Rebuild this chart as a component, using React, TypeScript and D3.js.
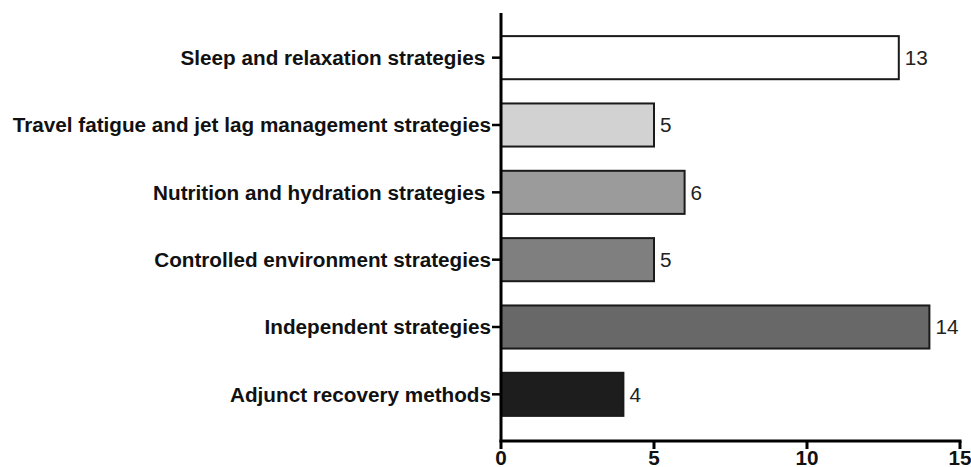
import React from "react";
import * as d3 from "d3";

const categories = [
  "Sleep and relaxation strategies ",
  "Travel fatigue and jet lag management strategies",
  "Nutrition and hydration strategies ",
  "Controlled environment strategies",
  "Independent strategies",
  "Adjunct recovery methods",
];
const values = [13, 5, 6, 5, 14, 4];
const fills = ["#ffffff", "#d2d2d2", "#9b9b9b", "#7f7f7f", "#686868", "#1d1d1d"];
const xTicks = [0, 5, 10, 15];

const W = 971;
const H = 467;
const X0 = 501;
const X1 = 960;
const YTOP = 13;
const YAXIS = 441;
const FS = 20.7;

export default function App() {
  const x = d3.scaleLinear().domain([0, 15]).range([X0, X1]);
  const y = d3
    .scaleBand<string>()
    .domain(categories)
    .range([24, 428])
    .paddingInner(0.36)
    .paddingOuter(0.18);
  const font = "'Liberation Sans', Arial, sans-serif";
  return (
    <svg
      width={W}
      height={H}
      style={{ position: "absolute", left: 0, top: 0, background: "#fff" }}
      fontFamily={font}
    >
      {categories.map((c, i) => {
        const yy = y(c)!;
        const bw = y.bandwidth();
        return (
          <g key={c}>
            <rect
              x={x(0)}
              y={yy}
              width={x(values[i]) - x(0)}
              height={bw}
              fill={fills[i]}
              stroke="#1a1a1a"
              strokeWidth={2}
            />
            <text
              x={x(values[i]) + 6}
              y={yy + bw / 2}
              dy="0.36em"
              fontSize={FS}
              fill="#222"
            >
              {values[i]}
            </text>
            <line x1={X0 - 9} x2={X0} y1={yy + bw / 2} y2={yy + bw / 2} stroke="#000" strokeWidth={2.5} />
            <text
              x={X0 - 10}
              y={yy + bw / 2}
              dy="0.36em"
              textAnchor="end"
              fontSize={FS}
              fontWeight="bold"
              fill="#111"
              style={{ whiteSpace: "pre" }}
            >
              {c}
            </text>
          </g>
        );
      })}
      <line x1={X0} x2={X0} y1={YTOP} y2={YAXIS + 1} stroke="#000" strokeWidth={3} />
      <line x1={X0 - 1.5} x2={X1 + 1.5} y1={YAXIS} y2={YAXIS} stroke="#000" strokeWidth={3} />
      {xTicks.map((t) => (
        <g key={t}>
          <line x1={x(t)} x2={x(t)} y1={YAXIS} y2={YAXIS + 8} stroke="#000" strokeWidth={3} />
          <text x={x(t)} y={465} textAnchor="middle" fontSize={FS} fontWeight="bold" fill="#111">
            {t}
          </text>
        </g>
      ))}
    </svg>
  );
}
